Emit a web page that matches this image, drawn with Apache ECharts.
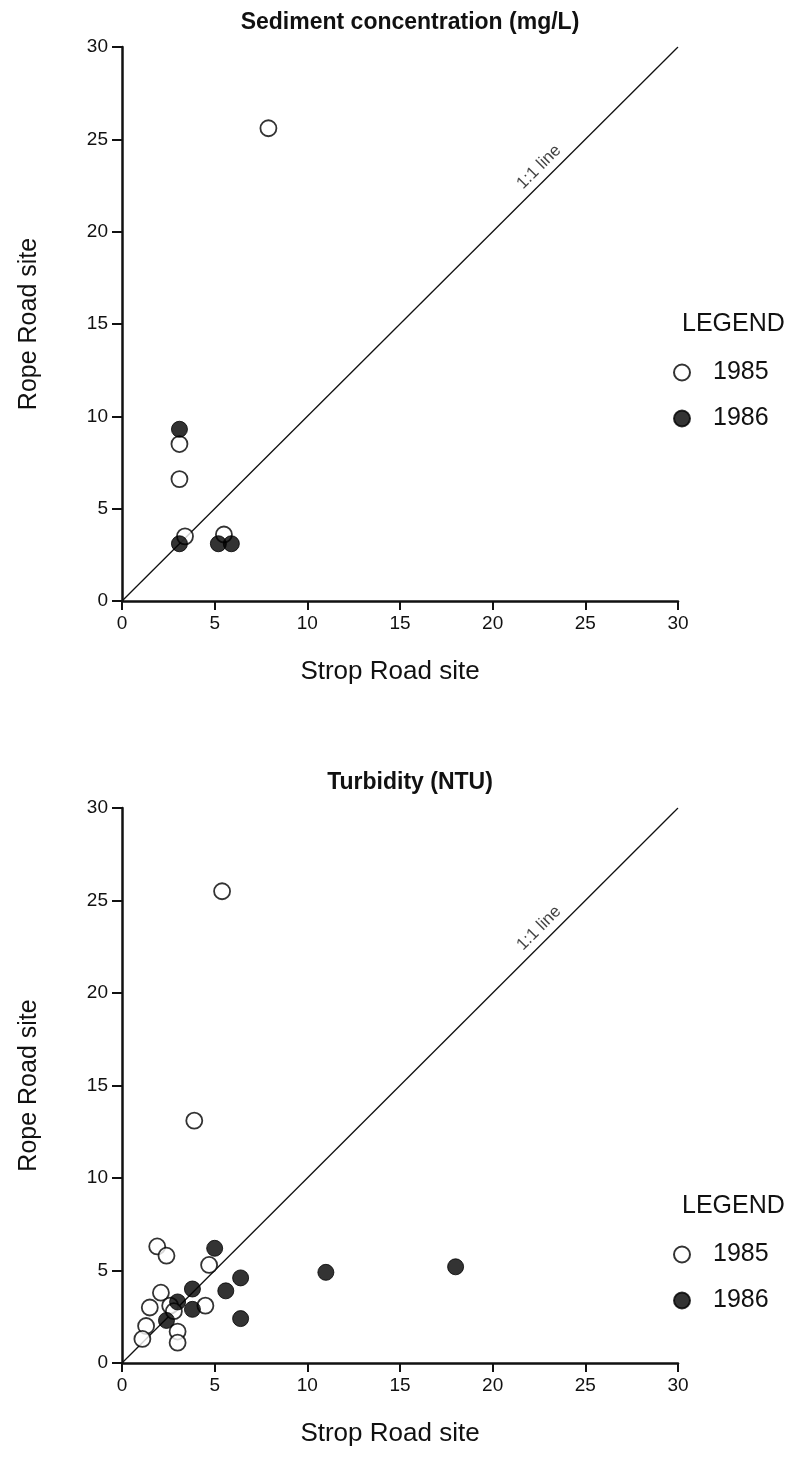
<!DOCTYPE html>
<html>
<head>
<meta charset="utf-8">
<script src="https://cdn.jsdelivr.net/npm/echarts@6/dist/echarts.min.js"></script>
<style>
html,body{margin:0;padding:0;background:#fff;}
#chart{width:808px;height:1482px;}
</style>
</head>
<body>
<div id="chart"></div>
<script>
// ---- Data ----
var oneToOne = [[0, 0], [30, 30]];
var oneToOneLabelAt = [[22.5, 23.5]];

// Sediment concentration (mg/L): [Strop Road, Rope Road]
var sed1985 = [[7.9, 25.6], [3.1, 8.5], [3.1, 6.6], [3.4, 3.5], [5.5, 3.6]];
var sed1986 = [[3.1, 9.3], [3.1, 3.1], [5.2, 3.1], [5.9, 3.1]];

// Turbidity (NTU): [Strop Road, Rope Road]
var turb1985 = [[5.4, 25.5], [3.9, 13.1], [1.9, 6.3], [2.4, 5.8], [4.7, 5.3],
  [2.1, 3.8], [1.5, 3.0], [2.6, 3.1], [2.8, 2.8], [4.5, 3.1], [1.3, 2.0],
  [1.1, 1.3], [3.0, 1.7], [3.0, 1.1]];
var turb1986 = [[5.0, 6.2], [3.8, 4.0], [3.0, 3.3], [3.8, 2.9], [2.4, 2.3],
  [6.4, 4.6], [5.6, 3.9], [6.4, 2.4], [11.0, 4.9], [18.0, 5.2]];

var titles = ['Sediment concentration (mg/L)', 'Turbidity (NTU)'];
var xName = 'Strop Road site';
var yName = 'Rope Road site';
var years = ['1985', '1986'];
var legendHeading = 'LEGEND';

// ---- Chart ----
var FONT = 'Liberation Sans, Arial, Helvetica, sans-serif';
var chart = echarts.init(document.getElementById('chart'), null, {renderer: 'canvas'});

var grids = [
  {left: 122, top: 47, width: 556, height: 554},
  {left: 122, top: 808, width: 556, height: 555}
];

function xAxis(i) {
  return {
    gridIndex: i, type: 'value', min: 0, max: 30, interval: 5,
    name: xName, nameLocation: 'middle', nameGap: 58,
    nameTextStyle: {color: '#111', fontSize: 26, fontFamily: FONT, padding: [0, 20, 0, 0]},
    axisLine: {onZero: false, lineStyle: {color: '#111', width: 2.5}},
    axisTick: {show: true, length: 9, lineStyle: {color: '#111', width: 2}},
    axisLabel: {color: '#111', fontSize: 19, fontFamily: FONT, margin: 13},
    splitLine: {show: false}
  };
}
function yAxis(i) {
  return {
    gridIndex: i, type: 'value', min: 0, max: 30, interval: 5,
    name: yName, nameLocation: 'middle', nameGap: 80,
    nameTextStyle: {color: '#111', fontSize: 25, fontFamily: FONT},
    axisLine: {onZero: false, lineStyle: {color: '#111', width: 2.5}},
    axisTick: {show: true, length: 10, lineStyle: {color: '#111', width: 2}},
    axisLabel: {color: '#111', fontSize: 19, fontFamily: FONT, margin: 14},
    splitLine: {show: false}
  };
}

var openStyle = {color: '#fff', borderColor: '#000', borderWidth: 1.8};
var fillStyle = {color: '#000', borderColor: '#000', borderWidth: 1};

function series(i, d85, d86) {
  return [
    {type: 'line', name: '1:1', xAxisIndex: i, yAxisIndex: i, data: oneToOne,
     symbol: 'none', silent: true, lineStyle: {color: '#111', width: 1.3}, z: 1},
    {type: 'scatter', name: 'lbl', xAxisIndex: i, yAxisIndex: i, data: oneToOneLabelAt,
     symbolSize: 0, silent: true,
     label: {show: true, formatter: '1:1 line', rotate: 45, position: 'inside',
             color: '#111', fontSize: 17, fontFamily: FONT}},
    {type: 'scatter', name: years[0], xAxisIndex: i, yAxisIndex: i, data: d85,
     symbol: 'circle', symbolSize: 16, itemStyle: openStyle, z: 3},
    {type: 'scatter', name: years[1], xAxisIndex: i, yAxisIndex: i, data: d86,
     symbol: 'circle', symbolSize: 16, itemStyle: fillStyle, z: 4}
  ];
}

// centre y of first legend item in each panel
var legendItemY = [368, 1250];

function legendTitle(y) {
  return {text: legendHeading, left: 677, top: y - 61,
    textStyle: {fontSize: 25, fontWeight: 'normal', color: '#111', fontFamily: FONT}};
}
function legend(y) {
  return {data: years, orient: 'vertical', left: 668, top: y - 13, icon: 'circle',
    itemWidth: 16, itemHeight: 16, itemGap: 21, selectedMode: false,
    textStyle: {fontSize: 25, color: '#111', fontFamily: FONT, padding: [0, 0, 0, 18]}};
}

chart.setOption({
  backgroundColor: '#fff',
  animation: false,
  title: [
    {text: titles[0], left: 405, top: 6, textAlign: 'center',
     textStyle: {fontSize: 23, fontWeight: 'bold', color: '#111', fontFamily: FONT}},
    {text: titles[1], left: 405, top: 766, textAlign: 'center',
     textStyle: {fontSize: 23, fontWeight: 'bold', color: '#111', fontFamily: FONT}},
    legendTitle(legendItemY[0]),
    legendTitle(legendItemY[1])
  ],
  legend: [legend(legendItemY[0]), legend(legendItemY[1])],
  grid: grids,
  xAxis: [xAxis(0), xAxis(1)],
  yAxis: [yAxis(0), yAxis(1)],
  series: series(0, sed1985, sed1986).concat(series(1, turb1985, turb1986))
});
</script>
</body>
</html>
